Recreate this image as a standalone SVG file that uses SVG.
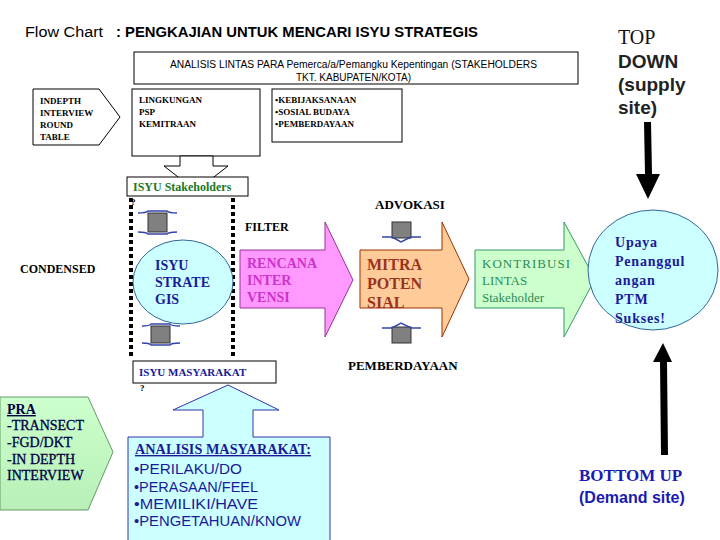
<svg xmlns="http://www.w3.org/2000/svg" width="720" height="540" viewBox="0 0 720 540">
<style>
.s{font-family:"Liberation Serif","DejaVu Serif",serif;font-weight:bold}
.r{font-family:"Liberation Serif","DejaVu Serif",serif;font-weight:normal}
.a{font-family:"Liberation Sans","DejaVu Sans",sans-serif}
.ab{font-family:"Liberation Sans","DejaVu Sans",sans-serif;font-weight:bold}
.box{fill:#fff;stroke:#000;stroke-width:1}
</style>
<defs>
<linearGradient id="gg" x1="0" y1="0" x2="0" y2="1"><stop offset="0" stop-color="#ccffcc"/><stop offset="1" stop-color="#b8f0b8"/></linearGradient>
</defs>
<rect width="720" height="540" fill="#fff"/>
<g id="title">
<text x="25" y="37" class="a" font-size="14" textLength="78" lengthAdjust="spacingAndGlyphs">Flow Chart</text>
<text x="116" y="37" class="ab" font-size="14" textLength="362" lengthAdjust="spacingAndGlyphs">: PENGKAJIAN UNTUK MENCARI ISYU STRATEGIS</text>
</g>
<g id="topdown">
<text x="618" y="44" class="r" font-size="20" fill="#111">TOP</text>
<text x="618" y="68" class="ab" font-size="19" fill="#222">DOWN</text>
<text x="618" y="91" class="ab" font-size="19" fill="#222">(supply</text>
<text x="618" y="114" class="ab" font-size="19" fill="#222">site)</text>
</g>
<g id="analisis-lintas">
<rect x="134" y="52" width="444" height="32" class="box"/>
<text x="170" y="68" class="a" font-size="10" textLength="367" lengthAdjust="spacingAndGlyphs">ANALISIS LINTAS PARA Pemerca/a/Pemangku Kepentingan (STAKEHOLDERS</text>
<text x="296" y="81" class="a" font-size="10" textLength="115" lengthAdjust="spacingAndGlyphs">TKT. KABUPATEN/KOTA)</text>
</g>
<g id="indepth">
<polygon points="33,89 99,89 120,117 99,145 33,145" class="box"/>
<text class="s" font-size="9"><tspan x="40" y="104">INDEPTH</tspan><tspan x="40" y="116">INTERVIEW</tspan><tspan x="40" y="128">ROUND</tspan><tspan x="40" y="140">TABLE</tspan></text>
</g>
<g id="lingkungan">
<rect x="132" y="89" width="128" height="67" class="box"/>
<text class="s" font-size="9"><tspan x="139" y="103">LINGKUNGAN</tspan><tspan x="139" y="115">PSP</tspan><tspan x="139" y="127">KEMITRAAN</tspan></text>
</g>
<g id="kebijakan">
<rect x="272" y="89" width="130" height="53" class="box"/>
<text class="s" font-size="9"><tspan x="275" y="103">•KEBIJAKSANAAN</tspan><tspan x="275" y="115">•SOSIAL BUDAYA</tspan><tspan x="275" y="127">•PEMBERDAYAAN</tspan></text>
</g>
<g id="connectors">
<polygon points="180,156 213,156 213,166 228,166 196,191 164,166 180,166" class="box"/>
<line x1="131" y1="198" x2="131" y2="358" stroke="#000" stroke-width="4" stroke-dasharray="4,3"/>
<line x1="233" y1="198" x2="233" y2="358" stroke="#000" stroke-width="4" stroke-dasharray="4,3"/>
<polygon points="128,437 203,437 203,410 173,410 228,385 279,410 253,410 253,437 330,437 330,545 128,545" fill="#ccffff" stroke="#3333aa"/>
<polygon points="644,122 651,122 652,174 660,174 648,199 636,174 645,174" fill="#000"/>
<polygon points="661,455 668,455 667,362 672,362 663,343 653,362 660,362" fill="#000"/>
<g id="filter-top">
<rect x="148" y="213" width="19" height="19" fill="#808080" stroke="#333"/>
<path d="M138,213 Q146,213 148,211 L167,211 Q169,213 177,213" fill="none" stroke="#3344aa" stroke-width="1.5"/>
<path d="M138,232 Q146,232 148,234 L167,234 Q169,232 177,232" fill="none" stroke="#3344aa" stroke-width="1.5"/>
</g>
<g id="filter-bottom">
<rect x="151" y="326" width="19" height="17" fill="#808080" stroke="#333"/>
<path d="M142,326 Q150,326 151,324 L170,324 Q171,326 180,326" fill="none" stroke="#3344aa" stroke-width="1.5"/>
<path d="M142,343 Q150,343 151,345 L170,345 Q171,343 180,343" fill="none" stroke="#3344aa" stroke-width="1.5"/>
</g>
<g id="advokasi-arrow">
<rect x="392" y="222" width="19" height="16" fill="#808080" stroke="#333"/>
<path d="M382,237 L392,237 L401,242 L411,237 L421,237" fill="none" stroke="#3344aa" stroke-width="1.5"/>
</g>
<g id="pemberdayaan-arrow">
<rect x="392" y="327" width="19" height="16" fill="#808080" stroke="#333"/>
<path d="M382,328 L392,328 L401,323 L411,328 L421,328" fill="none" stroke="#3344aa" stroke-width="1.5"/>
</g>
</g>
<g id="isyu-stakeholders">
<rect x="127" y="177" width="121" height="19" class="box"/>
<text x="133" y="191" class="s" font-size="12" fill="#227722">ISYU Stakeholders</text>
<text x="131" y="205" class="s" font-size="9">?</text>
</g>
<text x="245" y="231" class="s" font-size="12">FILTER</text>
<text x="20" y="273" class="s" font-size="12">CONDENSED</text>
<g id="isyu-strategis">
<ellipse cx="183" cy="282" rx="50" ry="42" fill="#ccffff" stroke="#336699"/>
<text class="s" font-size="14" fill="#1a1a99"><tspan x="155" y="270">ISYU</tspan><tspan x="155" y="287">STRATE</tspan><tspan x="155" y="304">GIS</tspan></text>
</g>
<g id="rencana">
<polygon points="240,250 325,250 325,222 353,280 325,337 325,308 240,308" fill="#ff99ff" stroke="#993399"/>
<text class="s" font-size="14" fill="#cc33cc"><tspan x="247" y="268">RENCANA</tspan><tspan x="247" y="285">INTER</tspan><tspan x="247" y="302">VENSI</tspan></text>
</g>
<text x="375" y="209" class="s" font-size="13">ADVOKASI</text>
<g id="mitra">
<polygon points="360,250 442,250 442,222 469,279 442,337 442,308 360,308" fill="#ffcc99" stroke="#993300"/>
<text class="s" font-size="16" fill="#993322"><tspan x="367" y="270">MITRA</tspan><tspan x="367" y="289">POTEN</tspan><tspan x="367" y="308">SIAL</tspan></text>
</g>
<text x="348" y="370" class="s" font-size="13">PEMBERDAYAAN</text>
<g id="kontribusi">
<polygon points="475,250 564,250 564,222 595,279 564,337 564,308 475,308" fill="#ccffcc" stroke="#339966"/>
<text class="r" font-size="13" fill="#2d8a57"><tspan x="482" y="268" textLength="88" lengthAdjust="spacing">KONTRIBUSI</tspan><tspan x="482" y="285">LINTAS</tspan><tspan x="482" y="302">Stakeholder</tspan></text>
</g>
<g id="upaya">
<ellipse cx="653" cy="270" rx="65" ry="60" fill="#ccffff" stroke="#336699"/>
<text class="s" font-size="14" fill="#1a1a99" letter-spacing="0.8"><tspan x="615" y="247">Upaya</tspan><tspan x="615" y="266">Penanggul</tspan><tspan x="615" y="285">angan</tspan><tspan x="615" y="304">PTM</tspan><tspan x="615" y="323">Sukses!</tspan></text>
</g>
<g id="isyu-masyarakat">
<rect x="133" y="361" width="143" height="22" class="box"/>
<text x="139" y="376" class="s" font-size="11" fill="#1a1a99">ISYU MASYARAKAT</text>
<text x="140" y="391" class="s" font-size="9">?</text>
</g>
<g id="analisis-masyarakat">
<text x="135" y="454" class="s" font-size="14" fill="#1a1a99" text-decoration="underline" textLength="176" lengthAdjust="spacingAndGlyphs">ANALISIS MASYARAKAT:</text>
<text class="a" font-size="14" fill="#1a1a99"><tspan x="134" y="474" textLength="108" lengthAdjust="spacingAndGlyphs">•PERILAKU/DO</tspan><tspan x="134" y="492" textLength="124" lengthAdjust="spacingAndGlyphs">•PERASAAN/FEEL</tspan><tspan x="134" y="509" textLength="124" lengthAdjust="spacingAndGlyphs">•MEMILIKI/HAVE</tspan><tspan x="134" y="526" textLength="167" lengthAdjust="spacingAndGlyphs">•PENGETAHUAN/KNOW</tspan></text>
</g>
<g id="pra">
<polygon points="0,397 88,397 113,452 88,510 0,510" fill="url(#gg)" stroke="#669966"/>
<text x="7" y="414" class="s" font-size="14" fill="#000044" text-decoration="underline">PRA</text>
<text class="r" font-size="14" fill="#000044" stroke="#000044" stroke-width="0.3"><tspan x="7" y="430">-TRANSECT</tspan><tspan x="7" y="447">-FGD/DKT</tspan><tspan x="7" y="464">-IN DEPTH</tspan><tspan x="7" y="480">INTERVIEW</tspan></text>
</g>
<g id="bottomup">
<text x="579" y="481" class="s" font-size="17" fill="#1a1ab3">BOTTOM UP</text>
<text x="579" y="503" class="ab" font-size="16" fill="#1a1ab3">(Demand site)</text>
</g>
</svg>
